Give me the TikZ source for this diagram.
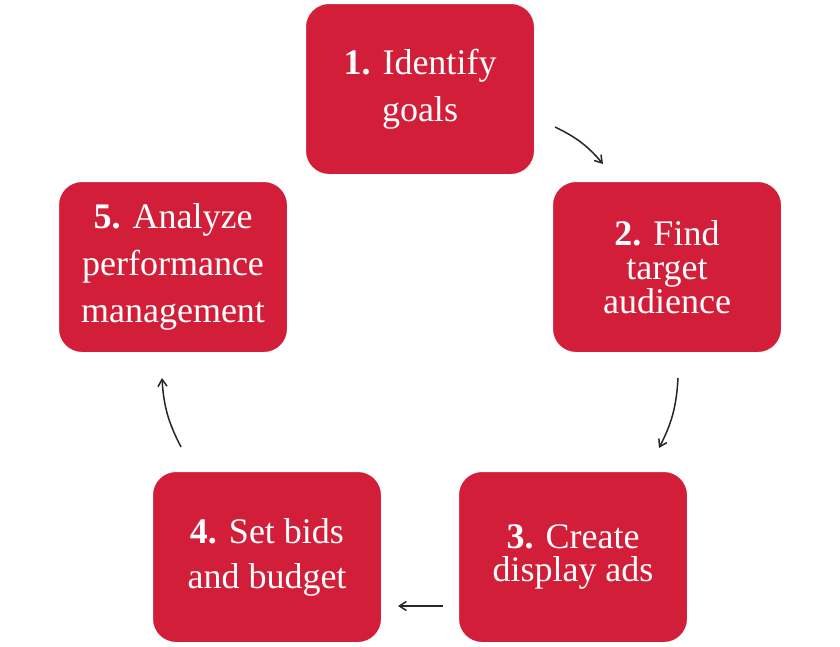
\documentclass[tikz,border=0pt]{standalone}
\usepackage{fontspec}
\setmainfont{Liberation Serif}
\usetikzlibrary{arrows.meta}
\definecolor{boxred}{HTML}{D21E39}
\tikzset{
  stepbox/.style={rectangle, rounded corners=24pt, fill=boxred, draw=white, line width=2pt,
    minimum width=230pt, minimum height=172pt, text=white, align=center,
    font=\fontsize{36}{47}\selectfont},
  cyc/.style={-{Straight Barb[length=7pt,width=9pt]}, line width=1.5pt, black!85},
}
\begin{document}
\begin{tikzpicture}[x=1pt,y=-1pt]
\useasboundingbox[fill=white] (0,0) rectangle (840,646);
\node[stepbox] (s1) at (420,89) {\textbf{1.} Identify\\goals};
\node[stepbox, font=\fontsize{36}{34}\selectfont] (s2) at (667,267) {\textbf{2.} Find\\target\\audience};
\node[stepbox, font=\fontsize{36}{33}\selectfont] (s3) at (573,557) {\textbf{3.} Create\\display ads};
\node[stepbox, font=\fontsize{36}{45}\selectfont] (s4) at (267,557) {\textbf{4.} Set bids\\and budget};
\node[stepbox] (s5) at (173,267) {\textbf{5.} Analyze\\performance\\management};
\coordinate (a1s) at (555,127); \coordinate (a1e) at (603,164);
\coordinate (a2s) at (678,378); \coordinate (a2e) at (659,448);
\coordinate (a3s) at (443,606); \coordinate (a3e) at (398,606);
\coordinate (a4s) at (181,447); \coordinate (a4e) at (162,378);
\draw[cyc] (a1s) to[bend left=12] (a1e);
\draw[cyc] (a2s) to[bend left=12] (a2e);
\draw[cyc] (a3s) -- (a3e);
\draw[cyc] (a4s) to[bend left=12] (a4e);
\end{tikzpicture}
\end{document}
